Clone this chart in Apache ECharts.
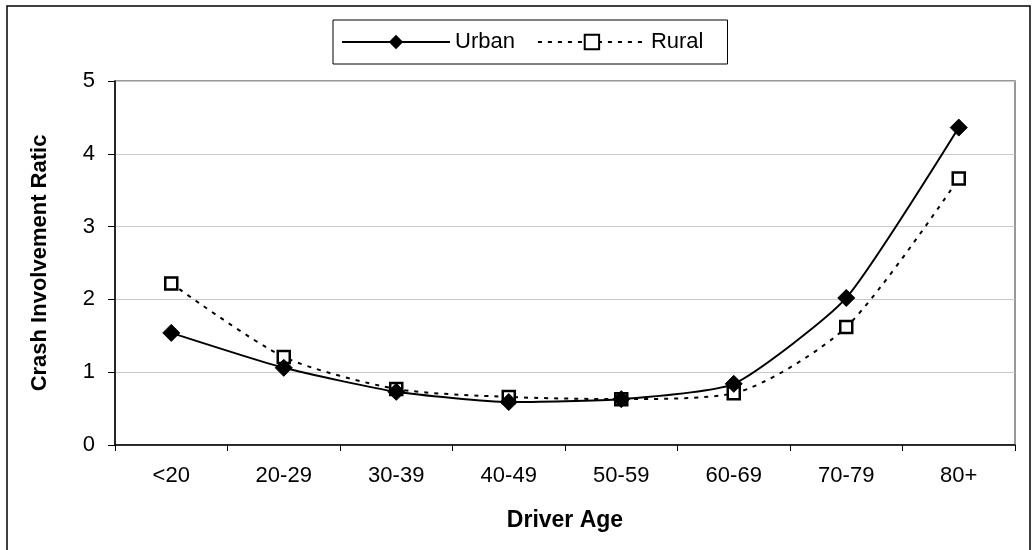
<!DOCTYPE html>
<html>
<head>
<meta charset="utf-8">
<style>
  html, body { margin: 0; padding: 0; background: #fff; }
  #chart { width: 1034px; height: 550px; }
</style>
<script src="https://cdn.jsdelivr.net/npm/echarts@6/dist/echarts.min.js"></script>
</head>
<body>
<div id="chart"></div>
<script>
  // driver age groups
  var ageGroups = ['<20', '20-29', '30-39', '40-49', '50-59', '60-69', '70-79', '80+']
  // crash involvement ratio per age group
  var urbanRatio = [1.54, 1.06, 0.73, 0.59, 0.63, 0.84, 2.02, 4.36]
  var ruralRatio = [2.22, 1.21, 0.77, 0.66, 0.63, 0.71, 1.62, 3.66]
  var yTicks = [0, 1, 2, 3, 4, 5]

  var font = 'Liberation Sans, Arial, sans-serif'
  var chart = echarts.init(document.getElementById('chart'))

  chart.setOption({
    animation: false,
    backgroundColor: '#fff',
    textStyle: { fontFamily: font, color: '#000' },
    graphic: [{
      type: 'rect',
      shape: { x: 7, y: 6, width: 1023, height: 600 },
      style: { fill: 'none', stroke: '#000', lineWidth: 1.5 },
      silent: true
    }],
    legend: {
      left: 333,
      top: 20,
      padding: [11, 24, 11, 8],
      itemGap: 22,
      itemWidth: 108,
      itemHeight: 18,
      borderColor: '#000',
      borderWidth: 1,
      textStyle: { fontSize: 22, fontFamily: font, color: '#000' },
      data: ['Urban', 'Rural']
    },
    grid: {
      left: 115,
      right: 19,
      top: 81,
      bottom: 105,
      show: true,
      borderColor: '#777',
      borderWidth: 1.5
    },
    xAxis: {
      type: 'category',
      data: ageGroups,
      boundaryGap: true,
      name: 'Driver Age',
      nameLocation: 'middle',
      nameGap: 64,
      nameTextStyle: { fontSize: 23, fontWeight: 'bold', fontFamily: font, color: '#000' },
      axisLine: { lineStyle: { color: '#000', width: 1.5 } },
      axisTick: { show: true, length: 6, alignWithLabel: false, lineStyle: { color: '#000' } },
      axisLabel: { fontSize: 22, margin: 20, color: '#000', fontFamily: font },
      splitLine: { show: false }
    },
    yAxis: {
      type: 'value',
      min: yTicks[0],
      max: yTicks[yTicks.length - 1],
      interval: 1,
      name: 'Crash Involvement Ratic',
      nameLocation: 'middle',
      nameRotate: 90,
      nameGap: 64,
      nameTextStyle: { fontSize: 22, fontWeight: 'bold', fontFamily: font, color: '#000' },
      axisLine: { show: true, lineStyle: { color: '#000', width: 1.5 } },
      axisTick: { show: true, length: 7, lineStyle: { color: '#000' } },
      axisLabel: { fontSize: 22, margin: 20, color: '#000', fontFamily: font },
      splitLine: { show: true, lineStyle: { color: '#c8c8c8', width: 1 } }
    },
    series: [
      {
        name: 'Urban',
        type: 'line',
        data: urbanRatio,
        smooth: 0.18,
        symbol: 'diamond',
        symbolSize: [17, 17],
        itemStyle: { color: '#000', borderColor: '#000' },
        lineStyle: { color: '#000', width: 2, type: 'solid' },
        z: 3
      },
      {
        name: 'Rural',
        type: 'line',
        data: ruralRatio,
        smooth: 0.25,
        symbol: 'rect',
        symbolSize: 12,
        itemStyle: { color: '#fff', borderColor: '#000', borderWidth: 2.5 },
        lineStyle: { color: '#000', width: 2, type: [4, 6] },
        z: 2
      }
    ]
  })
</script>
</body>
</html>
